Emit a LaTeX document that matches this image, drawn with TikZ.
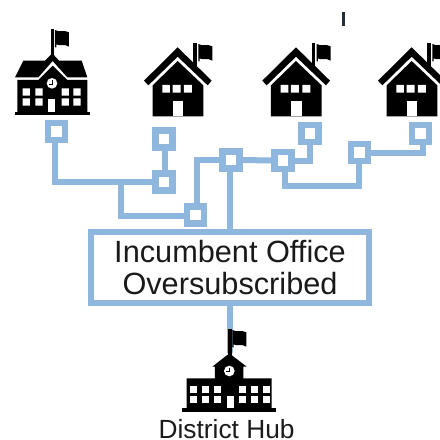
\documentclass[tikz,border=0pt]{standalone}
\usepackage{fontspec}
\setmainfont{Liberation Sans}
\definecolor{linkblue}{HTML}{8FB7DD}
\definecolor{inkdark}{HTML}{1A1A1A}
\tikzset{
  sq/.style={draw=linkblue,line width=6.2pt,fill=white,minimum size=17pt,inner sep=0pt,outer sep=0pt},
  link/.style={draw=linkblue,line width=6pt,line join=miter},
  officebox/.style={draw=linkblue,line width=6pt,fill=white,minimum width=278pt,minimum height=71pt,inner sep=0pt,outer sep=0pt,align=center,text=inkdark},
  ink/.style={fill=black,draw=none},
  paper/.style={fill=white,draw=none}
}
\newcommand{\flagshape}[2]{% x,y of upper-left corner in local units
  \fill[ink] (#1,#2) .. controls (#1+12,#2+8) and (#1+26,#2-2) .. (#1+42,#2+7)
    -- (#1+42,#2+50) .. controls (#1+28,#2+40) and (#1+14,#2+50) .. (#1+4,#2+43)
    -- (#1+4,#2+52) -- (#1,#2+52) -- cycle;
}
\newcommand{\houseicon}[1]{%
  \begin{scope}[shift={(#1,40)},x=.3333pt,y=-.3333pt]
    \fill[ink] (160,10) rectangle (170,78);
    \flagshape{175}{12}
    \fill[ink] (113,22) -- (215,122) -- (203,136) -- (113,50) -- (25,136) -- (12,122) -- cycle;
    \fill[ink] (113,63) -- (190,136) -- (190,229) -- (38,229) -- (38,136) -- cycle;
    \fill[paper] (67,135) rectangle (90,158) (98,135) rectangle (122,158) (132,135) rectangle (156,158);
    \fill[paper] (98,183) rectangle (130,229);
  \end{scope}
}
\newcommand{\clockface}[2]{%
  \fill[paper] (#1,#2) circle (16);
  \draw[black,line width=.8pt] (#1,#2-10) -- (#1,#2+2) -- (#1-9,#2+2);
}
\begin{document}
\begin{tikzpicture}[x=1pt,y=-1pt]
\useasboundingbox (0,0) rectangle (440,440);
\clip (0,0) rectangle (440,440);
\fill[white] (0,0) rectangle (440,440);

% stray mark at the top
\fill[black!75!linkblue] (342,12.3) rectangle (345,26);

% squares
\node[sq] (s1) at (56.5,131.5) {};
\node[sq] (s2) at (164,139) {};
\node[sq] (s3) at (164,182) {};
\node[sq] (s4) at (195.5,215) {};
\node[sq] (s5) at (231,160) {};
\node[sq] (s6) at (283,160.5) {};
\node[sq] (s7) at (310,133.7) {};
\node[sq] (s8) at (359.5,152.7) {};
\node[sq] (s9) at (420.7,133.7) {};
\node[officebox,font=\fontsize{30.7}{32.7}\selectfont] (office) at (230,267.6) {Incumbent Office\\Oversubscribed};

\coordinate (j1) at (121,181.5);
\coordinate (j2) at (284.7,186);
\coordinate (hubtop) at (230,353);

% connectors
\draw[link] ([xshift=-1.5pt]s1.south) |- (s3.west);
\draw[link] (j1) |- ([yshift=-1pt]s4.west);
\draw[link] ([xshift=1pt]s4.north) |- (s5.west);
\draw[link] ([xshift=1pt]s2.south) -- ([xshift=1pt]s3.north);
\draw[link] ([xshift=-1pt]s5.south) -- (office.north -| hubtop);
\draw[link] (s5.east) -- (s6.west);
\draw[link] (s6.east) -| (s7.south);
\draw[link] (s6.south -| j2) |- (j2) -| ([xshift=-1pt]s8.south);
\draw[link] (s8.east) -| ([xshift=2.3pt]s9.south);
\draw[link] (office.south -| hubtop) -- (hubtop);

% school
\begin{scope}[shift={(10,25)},x=.3333pt,y=-.3333pt]
  \fill[ink] (122,12) rectangle (132,92);
  \flagshape{135}{15}
  \fill[ink] (15,157) -- (40,107) -- (105,107) -- (127,85) -- (147,107) -- (215,107) -- (232,157) -- (172,157) -- (128,108) -- (85,157) -- cycle;
  \fill[ink] (128,122) -- (172,165) -- (232,165) -- (232,262) -- (22,262) -- (22,165) -- (85,165) -- cycle;
  \fill[ink] (15,260) rectangle (240,271);
  \fill[paper] (38,190) rectangle (60,212) (76,190) rectangle (98,212) (155,190) rectangle (177,212) (190,190) rectangle (212,212);
  \fill[paper] (38,220) rectangle (60,242) (76,220) rectangle (98,242) (155,220) rectangle (177,242) (190,220) rectangle (212,242);
  \fill[paper] (115,222) rectangle (135,260);
  \clockface{126}{175}
\end{scope}

% houses
\houseicon{140}
\houseicon{258.3}
\houseicon{374}

% district hub
\begin{scope}[shift={(175,325)},x=.3333pt,y=-.3333pt]
  \fill[ink] (158,12) rectangle (170,90);
  \flagshape{172}{15}
  \fill[ink] (163,85) -- (215,125) -- (205,125) -- (205,160) -- (290,160) -- (290,252) -- (35,252) -- (35,160) -- (120,160) -- (120,125) -- (112,125) -- cycle;
  \fill[ink] (22,250) rectangle (302,262);
  \foreach \wx in {45,80,117,192,228,264}{
    \fill[paper] (\wx,183) rectangle (\wx+22,205);
    \fill[paper] (\wx,212) rectangle (\wx+22,234);
  }
  \fill[paper] (155,212) rectangle (177,250);
  \clockface{163}{138}
\end{scope}

\node[anchor=base,inner sep=0pt,text=inkdark,font=\fontsize{26.3}{28}\selectfont] (hublabel) at (226.6,438.8) {District Hub};
\end{tikzpicture}
\end{document}
